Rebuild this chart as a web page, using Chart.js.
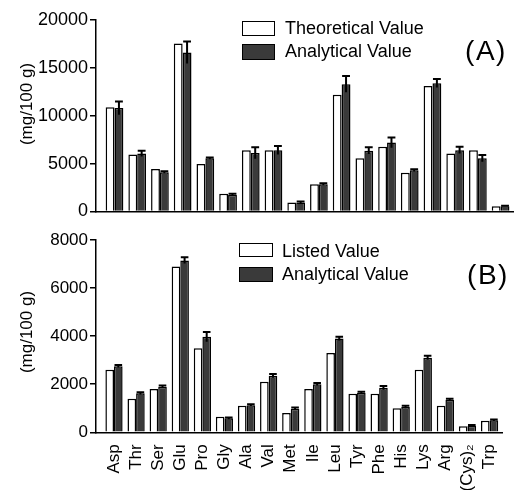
<!DOCTYPE html>
<html>
<head>
<meta charset="utf-8">
<script src="https://cdn.jsdelivr.net/npm/chart.js@4/dist/chart.umd.min.js"></script>
<style>
html,body{margin:0;padding:0;background:#fff;width:514px;height:490px;overflow:hidden;font-family:"Liberation Sans",Arial,sans-serif;color:#000;}
canvas{position:absolute;left:0;}
#cA{top:0;}
#cB{top:220px;}
.box{position:absolute;box-sizing:border-box;border:1.5px solid #000;}
.lt{position:absolute;font-size:18px;line-height:20px;white-space:nowrap;transform:translateY(-50%);}
.pl{position:absolute;font-size:28px;letter-spacing:1.5px;white-space:nowrap;transform:translate(-50%,-50%);}
.yt{position:absolute;font-size:17px;white-space:nowrap;transform:translate(-50%,-50%) rotate(-90deg);}
</style>
</head>
<body>
<canvas id="cA" width="514" height="230"></canvas>
<canvas id="cB" width="514" height="270"></canvas>

<div class="box" style="left:242px;top:21px;width:33px;height:15px;background:#fff;"></div>
<div class="box" style="left:242px;top:44px;width:33px;height:16px;background:#3a3a3a;"></div>
<div class="lt" style="left:285px;top:28px;">Theoretical Value</div>
<div class="lt" style="left:285px;top:51px;">Analytical Value</div>
<div class="pl" style="left:486px;top:51px;">(A)</div>
<div class="yt" style="left:27px;top:104px;">(mg/100 g)</div>

<div class="box" style="left:239px;top:243px;width:34px;height:14px;background:#fff;"></div>
<div class="box" style="left:239px;top:267px;width:34px;height:15px;background:#3a3a3a;"></div>
<div class="lt" style="left:282px;top:251px;">Listed Value</div>
<div class="lt" style="left:282px;top:274px;">Analytical Value</div>
<div class="pl" style="left:488px;top:275px;">(B)</div>
<div class="yt" style="left:27px;top:332px;">(mg/100 g)</div>

<script>
// ---- data ----
const categories = ['Asp','Thr','Ser','Glu','Pro','Gly','Ala','Val','Met','Ile','Leu','Tyr','Phe','His','Lys','Arg','(Cys)\u2082','Trp'];

const theoreticalA  = [10900, 5950, 4450, 17550, 4950, 1850, 6400, 6400,  950, 2850, 12200, 5550, 6750, 4050, 13100, 6050, 6400, 550];
const analyticalA   = [10800, 6050, 4100, 16600, 5550, 1750, 6100, 6400,  950, 2850, 13300, 6350, 7200, 4300, 13400, 6400, 5550, 550];
const analyticalErrA= [  700,  300,  100,  1150,  100,  100,  600,  450,  100,  100,   850,  350,  530,  120,   450,  350,  350,  60];

const listedB       = [2600, 1400, 1800, 6900, 3500, 650, 1100, 2100,  800, 1800, 3300, 1600, 1600, 1000, 2600, 1100, 250, 480];
const analyticalB   = [2750, 1620, 1900, 7150, 3970, 580, 1130, 2350,  980, 2000, 3900, 1650, 1850, 1050, 3100, 1350, 270, 500];
const analyticalErrB= [  50,   50,   50,  130,  200,  40,   40,   80,   50,   50,   80,   40,   80,   50,   80,   50,  30,  30];

const yTicksA = {min: 0, max: 20000, step: 5000};
const yTicksB = {min: 0, max: 8000, step: 2000};

// ---- chart helpers ----
const FONT = '"Liberation Sans", Arial, sans-serif';
const X_MIN = -0.815, X_MAX = 17.59;

const errorBars = {
  id: 'errorBars',
  afterDatasetsDraw(chart) {
    const ctx = chart.ctx;
    const yScale = chart.scales.y;
    chart.data.datasets.forEach((ds, di) => {
      if (!ds.errors) return;
      const meta = chart.getDatasetMeta(di);
      meta.data.forEach((bar, i) => {
        const e = ds.errors[i];
        if (!e) return;
        const v = ds.data[i].y;
        const yTop = yScale.getPixelForValue(v + e);
        const yLow = yScale.getPixelForValue(v - e);
        const half = bar.width / 2;
        ctx.save();
        ctx.strokeStyle = '#000';
        ctx.lineWidth = 2;
        ctx.beginPath();
        ctx.moveTo(bar.x, yLow);
        ctx.lineTo(bar.x, yTop);
        ctx.moveTo(bar.x - half + 0.5, yTop);
        ctx.lineTo(bar.x + half - 0.5, yTop);
        ctx.stroke();
        ctx.restore();
      });
    });
  }
};

function makeChart(id, s1, s2, err, yt, opts) {
  const toXY = arr => arr.map((v, i) => ({x: i, y: v}));
  return new Chart(document.getElementById(id), {
    type: 'bar',
    data: {
      datasets: [
        {data: toXY(s1), backgroundColor: '#ffffff', borderColor: '#000', borderWidth: 1.5,
         categoryPercentage: 0.78, barPercentage: 1.0},
        {data: toXY(s2), errors: err, backgroundColor: '#3a3a3a', borderColor: '#000', borderWidth: 1.5,
         categoryPercentage: 0.78, barPercentage: 1.0}
      ]
    },
    options: {
      responsive: false,
      animation: false,
      events: [],
      layout: {padding: {left: 0, right: 0, top: 20, bottom: 0}},
      plugins: {legend: {display: false}, tooltip: {enabled: false}},
      scales: {
        x: {
          type: 'linear', min: X_MIN, max: X_MAX, offset: false,
          afterBuildTicks: s => { s.ticks = categories.map((_, i) => ({value: i})); },
          ticks: {display: opts.showX, autoSkip: false, minRotation: 90, maxRotation: 90,
                  padding: 4, color: '#000', font: {size: 17, family: FONT},
                  callback: v => categories[v]},
          grid: {display: false},
          border: {display: true, color: '#000', width: 1.5},
          afterFit: s => { s.height = opts.xHeight; }
        },
        y: {
          min: yt.min, max: yt.max,
          ticks: {stepSize: yt.step, color: '#000', padding: 2, font: {size: opts.yFont, family: FONT},
                  callback: v => String(v)},
          grid: {display: true, drawOnChartArea: false, drawTicks: true, tickLength: 6, color: '#000', lineWidth: 1.5},
          border: {display: true, color: '#000', width: 1.5},
          afterFit: s => { s.width = 96; }
        }
      }
    },
    plugins: [errorBars]
  });
}

makeChart('cA', theoreticalA, analyticalA, analyticalErrA, yTicksA, {showX: false, xHeight: 18.5, yFont: 18});
makeChart('cB', listedB, analyticalB, analyticalErrB, yTicksB, {showX: true, xHeight: 57.7, yFont: 17});
</script>
</body>
</html>
